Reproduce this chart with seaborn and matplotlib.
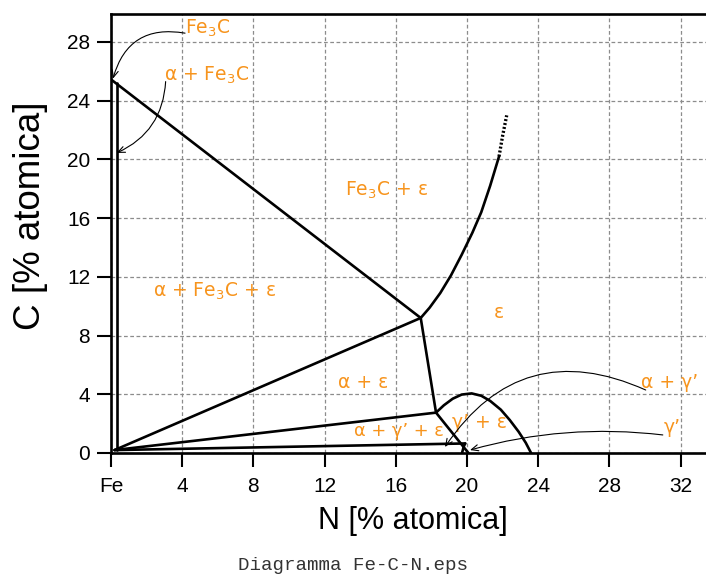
import matplotlib
matplotlib.use("Agg")
import matplotlib.pyplot as plt
import seaborn as sns
import pandas as pd

# Phase boundaries of the Fe-C-N isothermal section (atomic %, N on x, C on y)
fe3c_alpha_x = [0.32, 0.32]
fe3c_alpha_y = [0.2, 25.2]
fe3c_eps_tie_x = [0.05, 17.4]
fe3c_eps_tie_y = [25.4, 9.2]
alpha_eps_tie_x = [0.2, 17.4]
alpha_eps_tie_y = [0.2, 9.2]
alpha_eps_low_x = [0.2, 18.26]
alpha_eps_low_y = [0.2, 2.75]
alpha_gamma_tie_x = [0.2, 19.9]
alpha_gamma_tie_y = [0.2, 0.65]
eps_corner_x = [17.4, 18.26]
eps_corner_y = [9.2, 2.75]
eps_gamma_x = [18.26, 20.08]
eps_gamma_y = [2.75, 0.0]
gamma_left_x = [19.72, 19.82, 19.9]
gamma_left_y = [0.0, 0.45, 0.65]
eps_arch_x = [18.26, 18.7, 19.2, 19.7, 20.26, 20.8, 21.3, 21.9, 22.4, 22.9, 23.3, 23.6]
eps_arch_y = [2.75, 3.25, 3.7, 3.98, 4.06, 3.9, 3.55, 2.95, 2.25, 1.45, 0.7, 0.0]
eps_curve_x = [17.4, 17.9, 18.5, 19.1, 19.7, 20.3, 20.8, 21.3, 21.8]
eps_curve_y = [9.2, 9.9, 10.9, 12.1, 13.5, 15.0, 16.4, 18.2, 20.2]
eps_dotted_x = [21.8, 22.0, 22.23]
eps_dotted_y = [20.2, 21.6, 23.0]

# Region labels
label_texts = ["Fe$_3$C", "α + Fe$_3$C", "Fe$_3$C + ε", "α + Fe$_3$C + ε", "ε",
               "α + ε", "α + γ’ + ε", "γ’ + ε", "α + γ’", "γ’"]
label_x = [5.45, 5.39, 15.5, 5.84, 21.8, 14.16, 16.15, 20.7, 31.4, 31.5]
label_y = [28.95, 25.75, 17.9, 11.0, 9.6, 4.77, 1.5, 2.1, 4.77, 1.75]
label_size = [13.5, 13.5, 13.5, 13.5, 13.5, 13.5, 12.8, 13.5, 13.5, 13.5]

# Pointer arrows: tail (near label) -> tip (phase field), with curvature
arrow_tail_x = [4.16, 3.07, 30.04, 31.0]
arrow_tail_y = [28.6, 25.3, 4.29, 1.23]
arrow_tip_x = [0.11, 0.32, 18.76, 20.17]
arrow_tip_y = [25.5, 20.44, 0.41, 0.2]
arrow_rad = [0.45, -0.3, 0.42, 0.1]

x_ticks = [0, 4, 8, 12, 16, 20, 24, 28, 32]
x_tick_labels = ["Fe", "4", "8", "12", "16", "20", "24", "28", "32"]
y_ticks = [0, 4, 8, 12, 16, 20, 24, 28]

sns.set_style("ticks")
plt.rcParams["font.family"] = ["Liberation Sans", "DejaVu Sans"]
plt.rcParams["mathtext.fontset"] = "dejavusans"
plt.rcParams["text.color"] = "black"
plt.rcParams["axes.labelcolor"] = "black"
plt.rcParams["xtick.color"] = "black"
plt.rcParams["ytick.color"] = "black"

fig = plt.figure(figsize=(7.06, 5.77), dpi=100)
ax = fig.add_axes([111 / 706, 124 / 577, 595 / 706, 439 / 577])

solid = [
    ("a", fe3c_alpha_x, fe3c_alpha_y),
    ("b", fe3c_eps_tie_x, fe3c_eps_tie_y),
    ("c", alpha_eps_tie_x, alpha_eps_tie_y),
    ("d", alpha_eps_low_x, alpha_eps_low_y),
    ("e", alpha_gamma_tie_x, alpha_gamma_tie_y),
    ("f", eps_corner_x, eps_corner_y),
    ("g", eps_gamma_x, eps_gamma_y),
    ("h", gamma_left_x, gamma_left_y),
    ("i", eps_arch_x, eps_arch_y),
    ("j", eps_curve_x, eps_curve_y),
]
rows = []
for name, xs, ys in solid:
    for order, (xv, yv) in enumerate(zip(xs, ys)):
        rows.append({"seg": name, "order": order, "N": xv, "C": yv})
df = pd.DataFrame(rows)

sns.lineplot(data=df, x="N", y="C", units="seg", estimator=None, sort=False,
             color="black", linewidth=1.9, ax=ax, zorder=3,
             solid_capstyle="round", solid_joinstyle="round")

dotted = pd.DataFrame({"N": eps_dotted_x, "C": eps_dotted_y})
sns.lineplot(data=dotted, x="N", y="C", sort=False, estimator=None,
             color="black", linewidth=2.4, linestyle=(0, (0.6, 0.6)), ax=ax, zorder=3)

for t, xv, yv, fs in zip(label_texts, label_x, label_y, label_size):
    ax.text(xv, yv, t, color="#F7941D", fontsize=fs, ha="center", va="center",
            family="DejaVu Sans", zorder=4)

for tx, ty, hx, hy, r in zip(arrow_tail_x, arrow_tail_y, arrow_tip_x, arrow_tip_y, arrow_rad):
    ax.annotate("", xy=(hx, hy), xytext=(tx, ty),
                arrowprops=dict(arrowstyle="->,head_length=0.5,head_width=0.22",
                                connectionstyle=f"arc3,rad={r}",
                                color="black", lw=0.8, shrinkA=0, shrinkB=0),
                zorder=4)

ax.set_xlim(0, 595 / 17.8)
ax.set_ylim(0, 439 / 14.68)
ax.set_xticks(x_ticks)
ax.set_xticklabels(x_tick_labels)
ax.set_yticks(y_ticks)
ax.tick_params(axis="both", direction="out", length=10, width=1.5, labelsize=15,
               color="black", labelcolor="black", pad=5)
ax.tick_params(axis="x", pad=7.5)
ax.grid(True, color="#8c8c8c", linestyle=(0, (3, 2)), linewidth=0.9, zorder=0)
ax.set_axisbelow(True)
for side in ["left", "bottom", "top"]:
    ax.spines[side].set_linewidth(1.9)
    ax.spines[side].set_color("black")
ax.spines["right"].set_visible(False)

ax.set_xlabel("N [% atomica]", fontsize=22, color="black")
ax.xaxis.set_label_coords((413 - 111) / 595, (453 - 506) / 439)
ax.set_ylabel("C [% atomica]", fontsize=26.5, color="black")
ax.yaxis.set_label_coords((48 - 111) / 595, (453 - 216) / 439)

fig.text(353 / 706, 1 - 566 / 577, "Diagramma Fe-C-N.eps", family="Liberation Mono",
         fontsize=13.8, color="#333333", ha="center", va="center")

fig.savefig("out.png", dpi=100)
